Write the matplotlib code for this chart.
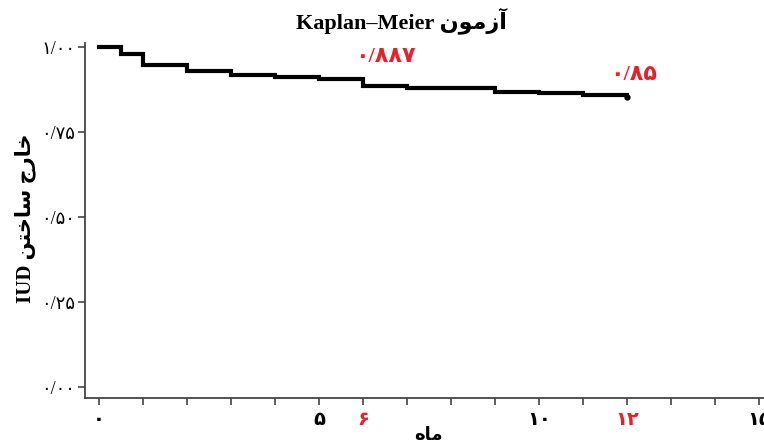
import matplotlib
matplotlib.use("Agg")
import matplotlib.pyplot as plt

# Data (months, survival probability)
times = [0, 0.5, 1, 2, 3, 4, 5, 6, 7, 9, 10, 11, 12]
surv = [1.0, 0.981, 0.947, 0.931, 0.919, 0.912, 0.907, 0.887, 0.881, 0.869, 0.864, 0.859, 0.854]

ytick_vals = [0, 0.25, 0.5, 0.75, 1.0]
ytick_labels = ["۰/۰۰", "۰/۲۵", "۰/۵۰", "۰/۷۵", "۱/۰۰"]
xtick_vals = list(range(0, 16))
xtick_labels = {0: "۰", 5: "۵", 6: "۶", 10: "۱۰", 12: "۱۲", 15: "۱۵"}
red_ticks = [6, 12]
annot_labels = ["۰/۸۸۷", "۰/۸۵"]
annot_pos = [(6.5, 0.97), (12.15, 0.918)]

# Persian text in visual order with presentation forms
title_txt = "Kaplan\u2013Meier " + "\uFEE5\uFEEE\uFEE3\uFEAF\uFE81"
ylabel_txt = "IUD " + "\uFEE6\uFE98\uFEA7\uFE8E\uFEB3" + " " + "\uFE9D\uFEAD\uFE8E\uFEA7"
xlabel_txt = "\uFEE9\uFE8E\uFEE3"

RED = "#e8202a"
fams = ["Liberation Serif", "DejaVu Sans"]

fig = plt.figure(figsize=(7.64, 4.44), dpi=100)
W, H = 764, 444
left_px, right_px, top_px, bot_px = 85, 800, 43, 398
ax = fig.add_axes([left_px / W, 1 - bot_px / H, (right_px - left_px) / W, (bot_px - top_px) / H])

ax.step(times, surv, where="post", color="black", lw=3.0, solid_joinstyle="miter")
ax.plot([times[-1]], [surv[-1]], "o", color="black", ms=3.5)

ax.set_xlim(-0.32, -0.32 + (right_px - left_px) / 44.0)
ax.set_ylim(-0.032, 1.012)

for s in ["top", "right"]:
    ax.spines[s].set_visible(False)
for s in ["left", "bottom"]:
    ax.spines[s].set_color("#444444")
    ax.spines[s].set_linewidth(1.3)

ax.set_yticks(ytick_vals)
ax.set_yticklabels(ytick_labels, fontsize=13, family=fams)
ax.set_xticks(xtick_vals)
ax.set_xticklabels([xtick_labels.get(v, "") for v in xtick_vals], fontsize=14, family=fams,
                   fontweight="bold")
for lbl, v in zip(ax.get_xticklabels(), xtick_vals):
    if v in red_ticks:
        lbl.set_color(RED)
ax.tick_params(axis="both", direction="out", length=5, width=1.2, color="#444444")
ax.tick_params(axis="x", pad=5)
ax.tick_params(axis="y", pad=2)

for txt, (x, y) in zip(annot_labels, annot_pos):
    ax.text(x, y, txt, color=RED, fontsize=16, fontweight="bold", ha="center", va="center", family=fams)

fig.text(401 / W, 1 - 21 / H, title_txt, ha="center", va="center", fontsize=16,
         fontweight="bold", family=fams)
fig.text(25 / W, 1 - 218 / H, ylabel_txt, rotation=90, ha="center", va="center", fontsize=15,
         fontweight="bold", family=fams)
fig.text(428 / W, 1 - 435 / H, xlabel_txt, ha="center", va="center", fontsize=13,
         fontweight="bold", family=fams)

fig.savefig("out.png", dpi=100)
